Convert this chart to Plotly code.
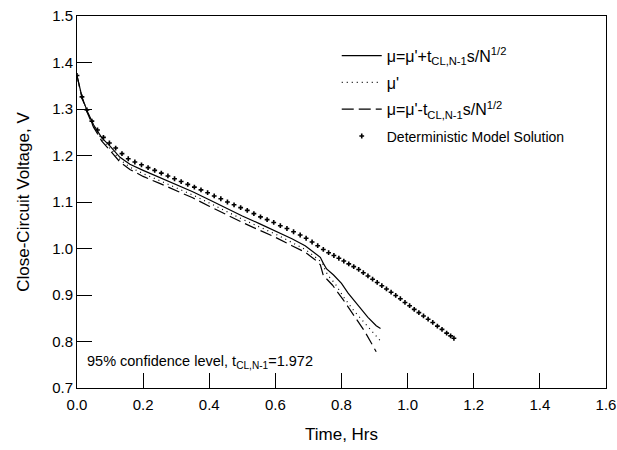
import plotly.graph_objects as go

# Deterministic model solution (dots)
det_t = [0.000, 0.015, 0.030, 0.045, 0.062, 0.080, 0.098, 0.117, 0.136, 0.155,
         0.175, 0.195, 0.215, 0.235, 0.255, 0.275, 0.295, 0.315, 0.335, 0.355,
         0.375, 0.395, 0.415, 0.435, 0.455, 0.475, 0.495, 0.515, 0.535, 0.555,
         0.575, 0.595, 0.615, 0.635, 0.655, 0.675, 0.693, 0.711, 0.728, 0.745,
         0.761, 0.777, 0.792, 0.807, 0.822, 0.837, 0.852, 0.866, 0.880, 0.894,
         0.908, 0.922, 0.936, 0.950, 0.964, 0.978, 0.992, 1.006, 1.020, 1.034,
         1.048, 1.062, 1.076, 1.090, 1.104, 1.118, 1.130, 1.140]
det_v = [1.372, 1.326, 1.298, 1.274, 1.255, 1.239, 1.227, 1.216, 1.204, 1.193,
         1.186, 1.180, 1.174, 1.168, 1.162, 1.156, 1.150, 1.144, 1.138, 1.132,
         1.126, 1.120, 1.113, 1.107, 1.100, 1.094, 1.088, 1.082, 1.075, 1.068,
         1.062, 1.056, 1.049, 1.043, 1.036, 1.029, 1.022, 1.014, 1.006, 0.998,
         0.991, 0.985, 0.979, 0.973, 0.967, 0.961, 0.955, 0.948, 0.941, 0.934,
         0.927, 0.920, 0.913, 0.906, 0.899, 0.892, 0.884, 0.877, 0.869, 0.862,
         0.855, 0.848, 0.841, 0.833, 0.826, 0.818, 0.812, 0.807]

# Upper bound  mu = mu' + t s / sqrt(N)
up_t = [0.000, 0.015, 0.030, 0.050, 0.075, 0.100, 0.130, 0.160, 0.200, 0.250,
        0.300, 0.350, 0.400, 0.450, 0.500, 0.550, 0.600, 0.650, 0.690, 0.720,
        0.736, 0.745, 0.755, 0.776, 0.800, 0.820, 0.850, 0.880, 0.905, 0.918]
up_v = [1.372, 1.326, 1.297, 1.266, 1.238, 1.220, 1.196, 1.181, 1.168, 1.153,
        1.138, 1.122, 1.105, 1.087, 1.070, 1.054, 1.038, 1.021, 1.006, 0.990,
        0.981, 0.968, 0.956, 0.943, 0.925, 0.904, 0.877, 0.852, 0.834, 0.828]

# Mean mu'
mid_t = [0.000, 0.015, 0.030, 0.050, 0.075, 0.100, 0.130, 0.160, 0.200, 0.250,
         0.300, 0.350, 0.400, 0.450, 0.500, 0.550, 0.600, 0.650, 0.690, 0.720,
         0.742, 0.750, 0.758, 0.780, 0.806, 0.840, 0.870, 0.900, 0.918]
mid_v = [1.372, 1.325, 1.296, 1.264, 1.235, 1.216, 1.191, 1.175, 1.161, 1.146,
         1.131, 1.115, 1.098, 1.080, 1.063, 1.047, 1.031, 1.013, 0.998, 0.982,
         0.969, 0.955, 0.943, 0.925, 0.896, 0.864, 0.840, 0.815, 0.801]

# Lower bound  mu = mu' - t s / sqrt(N)
lo_t = [0.000, 0.015, 0.030, 0.050, 0.075, 0.100, 0.130, 0.160, 0.200, 0.250,
        0.300, 0.350, 0.400, 0.450, 0.500, 0.550, 0.600, 0.650, 0.690, 0.720,
        0.736, 0.745, 0.773, 0.806, 0.840, 0.870, 0.905]
lo_v = [1.372, 1.324, 1.294, 1.261, 1.231, 1.211, 1.186, 1.170, 1.155, 1.140,
        1.125, 1.109, 1.091, 1.073, 1.056, 1.040, 1.024, 1.006, 0.992, 0.976,
        0.965, 0.942, 0.921, 0.889, 0.852, 0.822, 0.778]

x_ticks = [0.0, 0.2, 0.4, 0.6, 0.8, 1.0, 1.2, 1.4, 1.6]
y_ticks = [0.7, 0.8, 0.9, 1.0, 1.1, 1.2, 1.3, 1.4, 1.5]

FONT = "Liberation Sans, Arial, sans-serif"

fig = go.Figure()
fig.add_trace(go.Scatter(x=up_t, y=up_v, mode="lines", legendgroup="a",
                         name="\u03bc=\u03bc'+t<sub>CL,N-1</sub>s/N<sup>1/2</sup>",
                         line=dict(color="black", width=1.2)))
fig.add_trace(go.Scatter(x=mid_t, y=mid_v, mode="lines", legendgroup="b",
                         name="\u03bc'",
                         line=dict(color="black", width=1.2, dash="1px,4px")))
fig.add_trace(go.Scatter(x=lo_t, y=lo_v, mode="lines", legendgroup="c",
                         name="\u03bc=\u03bc'-t<sub>CL,N-1</sub>s/N<sup>1/2</sup>",
                         line=dict(color="black", width=1.2, dash="12px,5px")))
fig.add_trace(go.Scatter(x=det_t, y=det_v, mode="markers", legendgroup="d",
                         name="<span style='font-size:14px'>Deterministic Model Solution</span>",
                         marker=dict(color="black", size=4, symbol="cross")))

fig.add_annotation(x=0.025, y=0.756, xref="x", yref="y", xanchor="left", yanchor="middle",
                   text="95% confidence level, t<sub>CL,N-1</sub>=1.972",
                   showarrow=False, font=dict(size=14.5, color="black", family=FONT))

fig.update_layout(
    template="none",
    width=617, height=450,
    margin=dict(l=77, r=11, t=16, b=62),
    paper_bgcolor="white", plot_bgcolor="white",
    font=dict(family=FONT, color="black", size=15),
    showlegend=True,
    legend=dict(x=0.491, y=0.939, xanchor="left", yanchor="top",
                bgcolor="rgba(0,0,0,0)", borderwidth=0,
                font=dict(size=16, family=FONT),
                itemwidth=40, tracegroupgap=3),
)
fig.update_xaxes(range=[0, 1.6], tickvals=x_ticks, ticktext=[f"{v:.1f}" for v in x_ticks],
                 ticks="inside", ticklen=15, tickwidth=1, tickcolor="black",
                 ticklabelstandoff=3, automargin=False,
                 showline=True, linecolor="black", linewidth=1, mirror=True,
                 showgrid=False, zeroline=False,
                 title=dict(text="Time, Hrs", font=dict(size=17), standoff=16))
fig.update_yaxes(range=[0.7, 1.5], tickvals=y_ticks, ticktext=[f"{v:.1f}" for v in y_ticks],
                 ticks="inside", ticklen=15, tickwidth=1, tickcolor="black",
                 automargin=False,
                 showline=True, linecolor="black", linewidth=1, mirror=True,
                 showgrid=False, zeroline=False,
                 title=dict(text="Close-Circuit Voltage, V", font=dict(size=17), standoff=18))

fig.write_html("out.html")
